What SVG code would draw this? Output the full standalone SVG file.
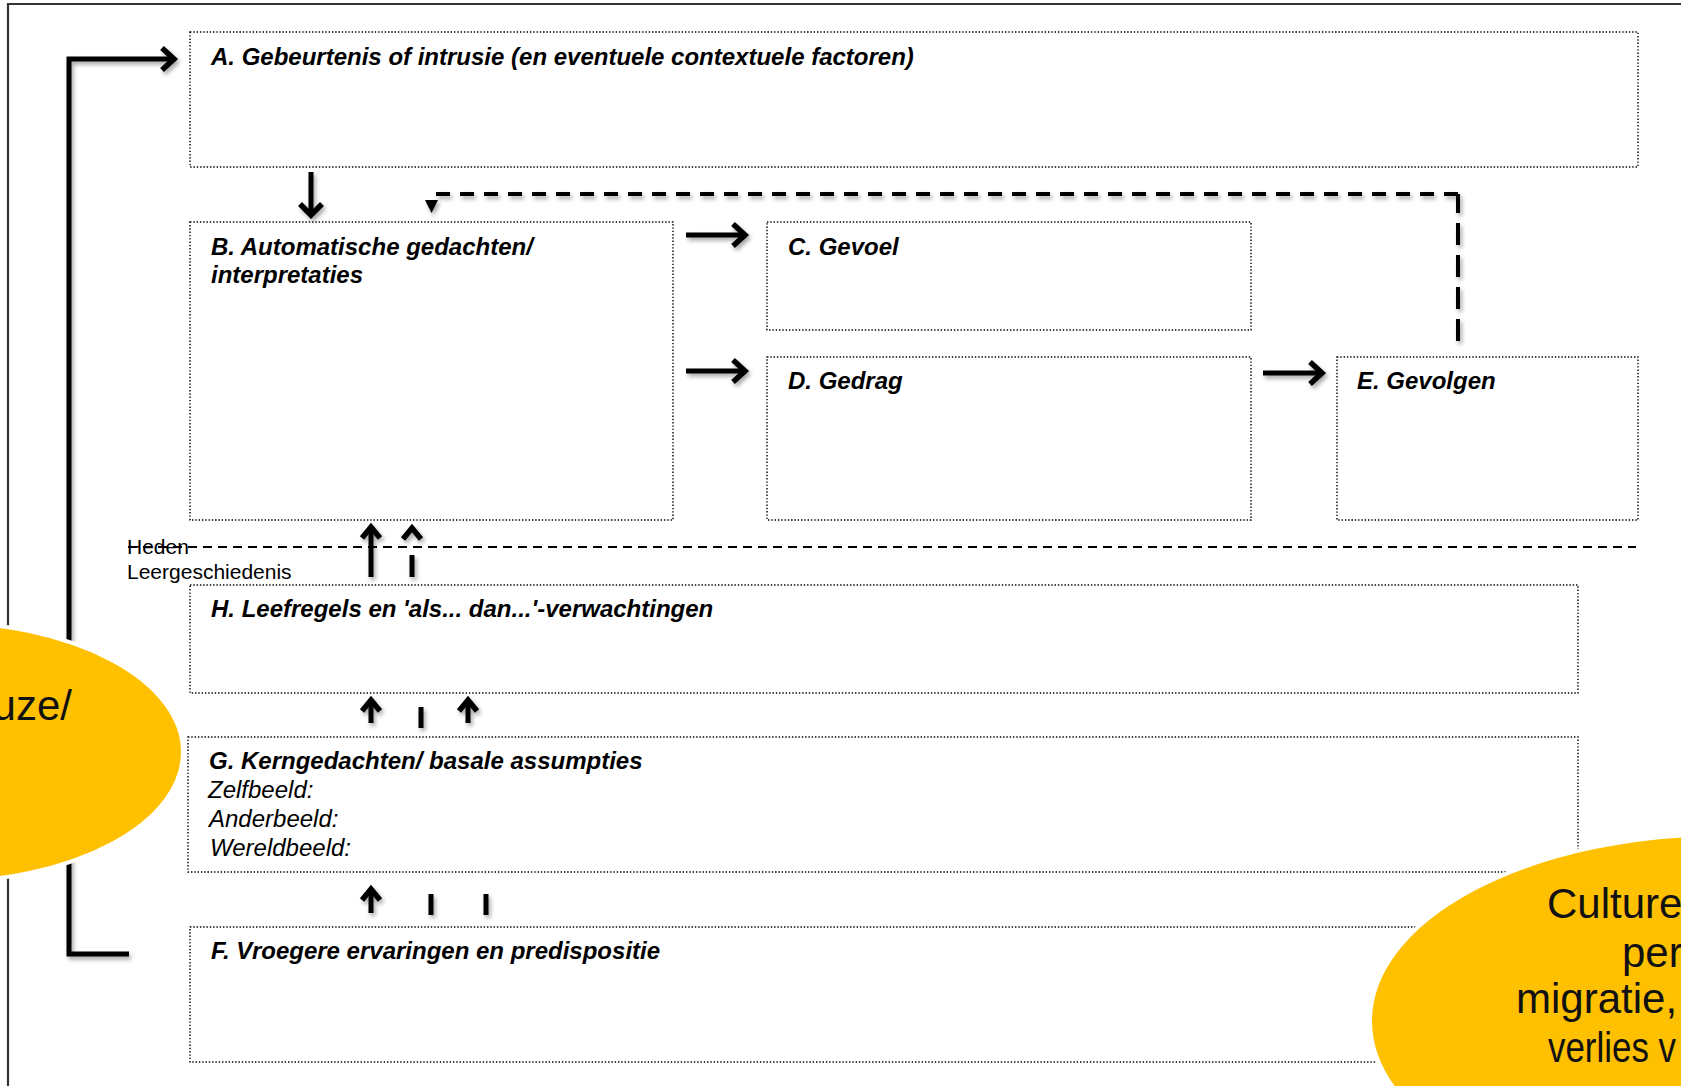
<svg xmlns="http://www.w3.org/2000/svg" width="1681" height="1086" viewBox="0 0 1681 1086">
<defs>
<style>
.box{fill:none;stroke:#000;stroke-width:1.4;stroke-dasharray:1.4 1.9}
.bt{font-family:"Liberation Sans",Arial,sans-serif;font-size:24px;font-weight:bold;font-style:italic;fill:#000}
.it{font-family:"Liberation Sans",Arial,sans-serif;font-size:24px;font-style:italic;fill:#000}
.sm{font-family:"Liberation Sans",Arial,sans-serif;font-size:21px;fill:#000}
.big{font-family:"Liberation Sans",Arial,sans-serif;font-size:42px;fill:#111}
.c{fill:none;stroke:#000;stroke-width:5;stroke-linejoin:miter}
.h{fill:none;stroke:#000;stroke-width:5.5;stroke-linejoin:miter}
.dl{fill:none;stroke:#000;stroke-width:4}
.sep{fill:none;stroke:#000;stroke-width:2;stroke-dasharray:9 6}
.ell{fill:#FFC000;stroke:#fff;stroke-width:4}
</style>
<filter id="sh" x="-20%" y="-20%" width="140%" height="140%">
<feDropShadow dx="2" dy="3" stdDeviation="2" flood-color="#000" flood-opacity="0.35"/>
</filter>
</defs>
<rect width="1681" height="1086" fill="#fff"/>
<path d="M8,1090 V4 H1690" fill="none" stroke="#333" stroke-width="2.2"/>

<g id="node-A"><rect class="box" x="190" y="32" width="1448" height="135"/><text class="bt" x="211" y="65">A. Gebeurtenis of intrusie (en eventuele contextuele factoren)</text></g>
<g id="node-B"><rect class="box" x="190" y="222" width="483" height="298"/><text class="bt" x="211" y="255">B. Automatische gedachten/</text><text class="bt" x="211" y="283">interpretaties</text></g>
<g id="node-C"><rect class="box" x="767" y="222" width="484" height="108"/><text class="bt" x="788" y="255">C. Gevoel</text></g>
<g id="node-D"><rect class="box" x="767" y="357" width="484" height="163"/><text class="bt" x="788" y="389">D. Gedrag</text></g>
<g id="node-E"><rect class="box" x="1337" y="357" width="301" height="163"/><text class="bt" x="1357" y="389">E. Gevolgen</text></g>
<g id="node-H"><rect class="box" x="190" y="585" width="1388" height="108"/><text class="bt" x="211" y="617">H. Leefregels en 'als... dan...'-verwachtingen</text></g>
<g id="node-G"><rect class="box" x="188" y="737" width="1390" height="135"/><text class="bt" x="209" y="769">G. Kerngedachten/ basale assumpties</text><text class="it" x="208" y="798">Zelfbeeld:</text><text class="it" x="209" y="827">Anderbeeld:</text><text class="it" x="210" y="856">Wereldbeeld:</text></g>
<g id="node-F"><rect class="box" x="190" y="927" width="1388" height="135"/><text class="bt" x="211" y="959">F. Vroegere ervaringen en predispositie</text></g>

<g id="timeline">
<path class="sep" d="M128,547 H1636"/>
<text class="sm" x="127" y="554">Heden</text>
<text class="sm" x="127" y="579">Leergeschiedenis</text>
</g>

<g id="connectors" filter="url(#sh)">
<path class="c" d="M129,954 H69 V59 H172"/><path class="h" d="M162,48 L174,59 L162,70"/>
<path class="c" d="M311,172 V213"/><path class="h" d="M300,204 L311,215 L322,204"/>
<path class="c" d="M686,235 H743"/><path class="h" d="M733,224 L745,235 L733,246"/>
<path class="c" d="M686,371 H743"/><path class="h" d="M733,360 L745,371 L733,382"/>
<path class="c" d="M1263,373 H1320"/><path class="h" d="M1310,362 L1322,373 L1310,384"/>
<path class="dl" d="M1458,341 V194" stroke-dasharray="22 10"/>
<path class="dl" d="M1458,194 H432 V201" stroke-dasharray="14 10"/>
<path d="M425,200 H438 L431.5,213 Z" fill="#000"/>
<path class="c" d="M371,527 V577"/><path class="h" d="M362,538 L371,527 L380,538"/>
<path class="c" d="M412,555 V577"/><path class="h" d="M403,539 L412,528 L421,539"/>
<path class="c" d="M371,700 V723"/><path class="h" d="M362,711 L371,700 L380,711"/>
<path class="c" d="M421,707 V728"/>
<path class="c" d="M468,700 V723"/><path class="h" d="M459,711 L468,700 L477,711"/>
<path class="c" d="M371,889 V913"/><path class="h" d="M362,900 L371,889 L380,900"/>
<path class="c" d="M431,894 V915"/>
<path class="c" d="M486,894 V915"/>
</g>

<g id="note-left">
<ellipse class="ell" cx="-60" cy="752" rx="243" ry="130"/>
<text class="big" x="72" y="720" text-anchor="end">uze/</text>
</g>
<g id="note-right">
<ellipse class="ell" cx="1725" cy="1021" rx="355" ry="187"/>
<text class="big" x="1547" y="918">Culture</text>
<text class="big" x="1622" y="967">per</text>
<text class="big" x="1516" y="1013">migratie,</text>
<text class="big" x="1548" y="1062" textLength="128" lengthAdjust="spacingAndGlyphs">verlies v</text>
</g>
</svg>
